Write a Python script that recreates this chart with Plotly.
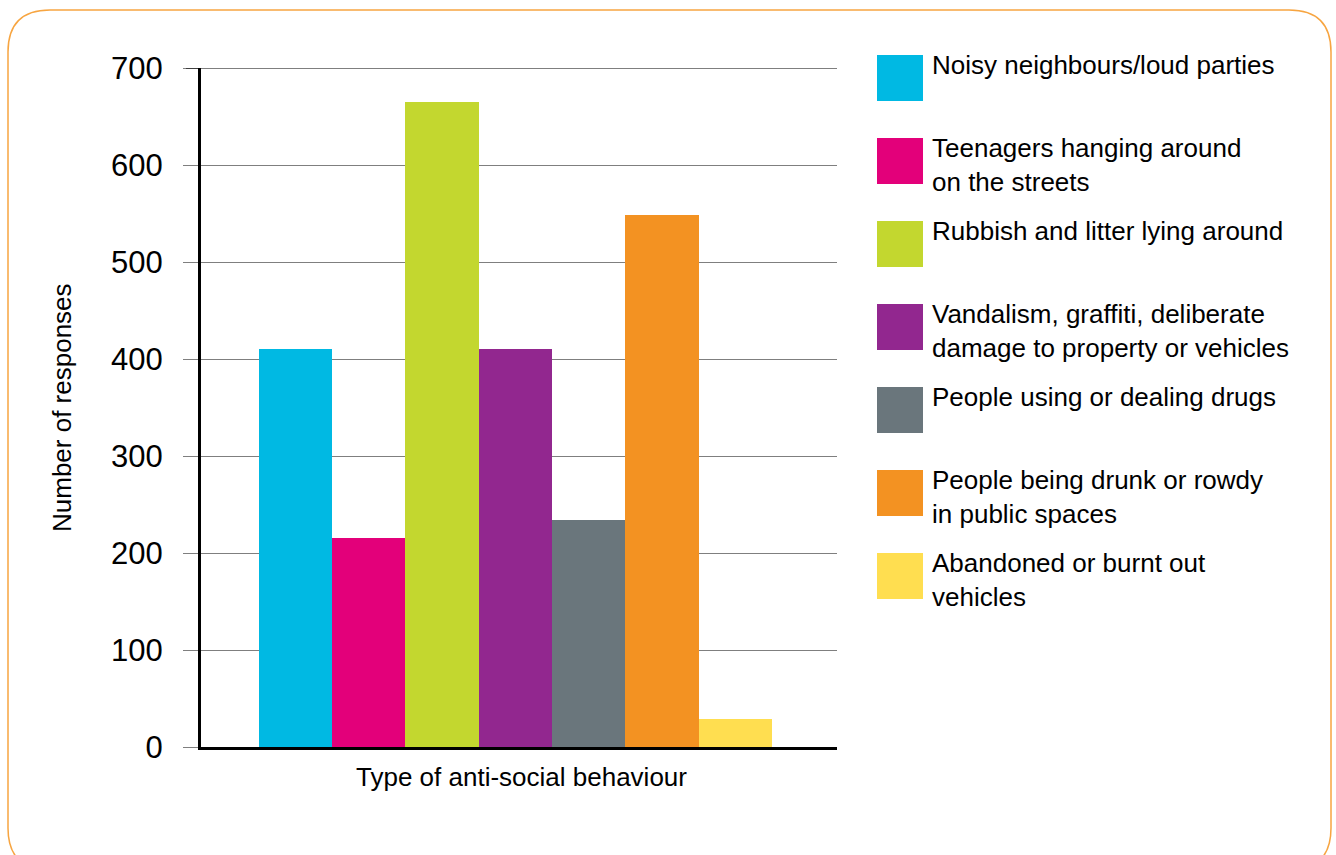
import plotly.graph_objects as go

categories = ["Noisy neighbours/loud parties",
              "Teenagers hanging around<br>on the streets",
              "Rubbish and litter lying around",
              "Vandalism, graffiti, deliberate<br>damage to property or vehicles",
              "People using or dealing drugs",
              "People being drunk or rowdy<br>in public spaces",
              "Abandoned or burnt out<br>vehicles"]
values = [410, 215, 665, 410, 234, 548, 29]
colors = ["#00B9E3", "#E3007A", "#C3D72F", "#92278F", "#6A767C", "#F39222", "#FFDE50"]
y_ticks = [0, 100, 200, 300, 400, 500, 600, 700]

W, H = 1336, 855
L, R, T, B = 201, 837, 68, 747
pw, ph = R - L, B - T

def px(x):
    return (x - L) / pw

def py(y):
    return (B - y) / ph

fig = go.Figure()
fig.add_trace(go.Bar(
    x=list(range(len(values))), y=values, width=1.0,
    marker=dict(color=colors, line=dict(width=0)),
    showlegend=False, hoverinfo="skip"))

font = "Liberation Sans, Arial, sans-serif"

shapes = []
annotations = []

# top black line at 700
shapes.append(dict(type="line", xref="paper", yref="y", x0=px(186), x1=1, y0=700, y1=700,
                   line=dict(color="black", width=1.2), layer="above"))

# legend
for i, (lab, col) in enumerate(zip(categories, colors)):
    top = 55 + 83 * i
    shapes.append(dict(type="rect", xref="paper", yref="paper",
                       x0=px(877), x1=px(923), y0=py(top + 46), y1=py(top),
                       fillcolor=col, line=dict(width=0)))
    annotations.append(dict(text=lab, xref="paper", yref="paper", x=px(930), y=py(top - 7),
                            xanchor="left", yanchor="top", align="left", showarrow=False,
                            font=dict(family=font, size=26, color="black")))

# axis titles
annotations.append(dict(text="Number of responses", xref="paper", yref="paper",
                        x=px(62), y=py(408), textangle=-90, showarrow=False,
                        xanchor="center", yanchor="middle",
                        font=dict(family=font, size=26, color="black")))
annotations.append(dict(text="Type of anti-social behaviour", xref="paper", yref="paper",
                        x=px(521), y=py(777), showarrow=False,
                        xanchor="center", yanchor="middle",
                        font=dict(family=font, size=26, color="black")))

# rounded border
x0b, x1b, y0b, y1b, r = 8, 1331, 10, 870, 42
def P(x, y):
    return f"{px(x):.5f},{py(y):.5f}"
path = (f"M {P(x0b + r, y0b)} L {P(x1b - r, y0b)} Q {P(x1b, y0b)} {P(x1b, y0b + r)} "
        f"L {P(x1b, y1b - r)} Q {P(x1b, y1b)} {P(x1b - r, y1b)} "
        f"L {P(x0b + r, y1b)} Q {P(x0b, y1b)} {P(x0b, y1b - r)} "
        f"L {P(x0b, y0b + r)} Q {P(x0b, y0b)} {P(x0b + r, y0b)} Z")
shapes.append(dict(type="path", xref="paper", yref="paper", path=path,
                   line=dict(color="#F7A541", width=1.5), layer="below"))

fig.update_layout(
    width=W, height=H,
    margin=dict(l=L, r=W - R, t=T, b=H - B, pad=0),
    paper_bgcolor="white", plot_bgcolor="white",
    bargap=0,
    xaxis=dict(range=[-1.29, 7.39], showticklabels=False, showgrid=False, zeroline=False,
               showline=True, linecolor="black", linewidth=3, ticks=""),
    yaxis=dict(range=[0, 700], tickvals=y_ticks, showgrid=True, gridcolor="#7f7f7f", gridwidth=1,
               zeroline=False, showline=True, linecolor="black", linewidth=3,
               ticks="outside", ticklen=15, tickcolor="#7f7f7f", tickwidth=1,
               ticklabelstandoff=14,
               tickfont=dict(family=font, size=31, color="black")),
    shapes=shapes, annotations=annotations,
)

fig.write_html("out.html")
